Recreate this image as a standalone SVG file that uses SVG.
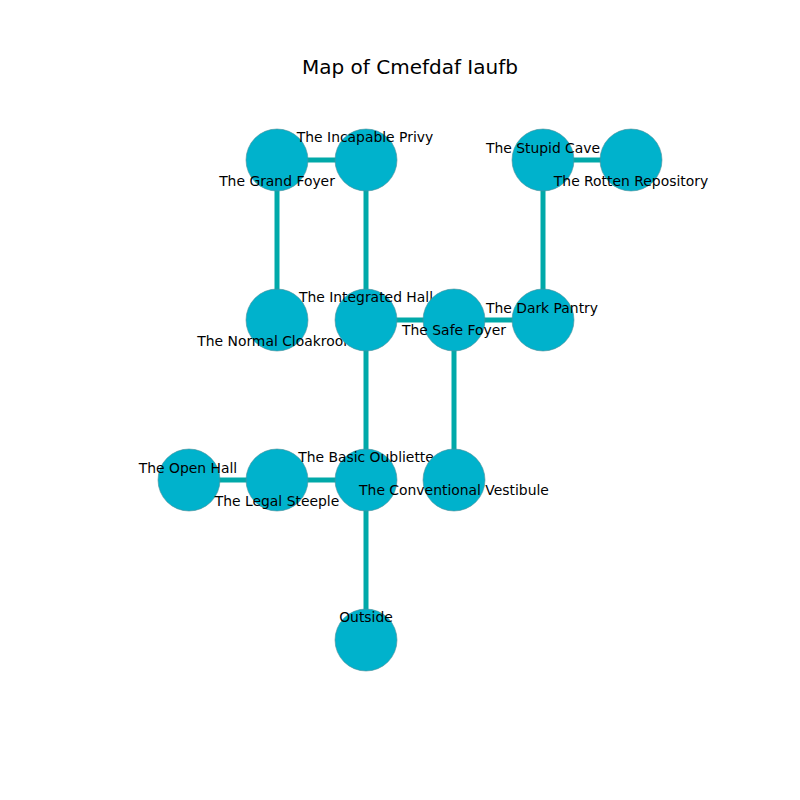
<svg xmlns="http://www.w3.org/2000/svg" width="800" height="800" viewBox="0 0 800 800">
<style>
.e{stroke:#00a9a9;stroke-width:5;fill:none}
.n{fill:#00b2cc;stroke:#4f8f99;stroke-width:0.6}
.l{font-family:"DejaVu Sans",sans-serif;font-size:13.9px;fill:#000;text-anchor:middle}
.t{font-family:"DejaVu Sans",sans-serif;font-size:20px;fill:#000;text-anchor:middle}
</style>
<rect width="800" height="800" fill="#fff"/>
<text class="t" x="410" y="74">Map of Cmefdaf Iaufb</text>
<g id="edges">
<line class="e" x1="277" y1="160" x2="366" y2="160"/>
<line class="e" x1="277" y1="160" x2="277" y2="320"/>
<line class="e" x1="366" y1="160" x2="366" y2="320"/>
<line class="e" x1="543" y1="160" x2="631" y2="160"/>
<line class="e" x1="543" y1="160" x2="543" y2="320"/>
<line class="e" x1="366" y1="320" x2="454" y2="320"/>
<line class="e" x1="454" y1="320" x2="543" y2="320"/>
<line class="e" x1="366" y1="320" x2="366" y2="480"/>
<line class="e" x1="454" y1="320" x2="454" y2="480"/>
<line class="e" x1="189" y1="480" x2="277" y2="480"/>
<line class="e" x1="277" y1="480" x2="366" y2="480"/>
<line class="e" x1="366" y1="480" x2="366" y2="640"/>
</g>
<g id="grand-foyer"><circle class="n" cx="277" cy="160" r="31"/><text class="l" x="277" y="186">The Grand Foyer</text></g>
<g id="incapable-privy"><circle class="n" cx="366" cy="160" r="31"/><text class="l" x="365" y="142">The Incapable Privy</text></g>
<g id="stupid-cave"><circle class="n" cx="543" cy="160" r="31"/><text class="l" x="543" y="153">The Stupid Cave</text></g>
<g id="rotten-repository"><circle class="n" cx="631" cy="160" r="31"/><text class="l" x="631" y="186">The Rotten Repository</text></g>
<g id="normal-cloakroom"><circle class="n" cx="277" cy="320" r="31"/><text class="l" x="277" y="346">The Normal Cloakroom</text></g>
<g id="integrated-hall"><circle class="n" cx="366" cy="320" r="31"/><text class="l" x="366" y="302">The Integrated Hall</text></g>
<g id="safe-foyer"><circle class="n" cx="454" cy="320" r="31"/><text class="l" x="454" y="335">The Safe Foyer</text></g>
<g id="dark-pantry"><circle class="n" cx="543" cy="320" r="31"/><text class="l" x="542" y="313">The Dark Pantry</text></g>
<g id="open-hall"><circle class="n" cx="189" cy="480" r="31"/><text class="l" x="188" y="473">The Open Hall</text></g>
<g id="legal-steeple"><circle class="n" cx="277" cy="480" r="31"/><text class="l" x="277" y="506">The Legal Steeple</text></g>
<g id="basic-oubliette"><circle class="n" cx="366" cy="480" r="31"/><text class="l" x="366" y="462">The Basic Oubliette</text></g>
<g id="conventional-vestibule"><circle class="n" cx="454" cy="480" r="31"/><text class="l" x="454" y="495">The Conventional Vestibule</text></g>
<g id="outside"><circle class="n" cx="366" cy="640" r="31"/><text class="l" x="366" y="622">Outside</text></g>
</svg>
